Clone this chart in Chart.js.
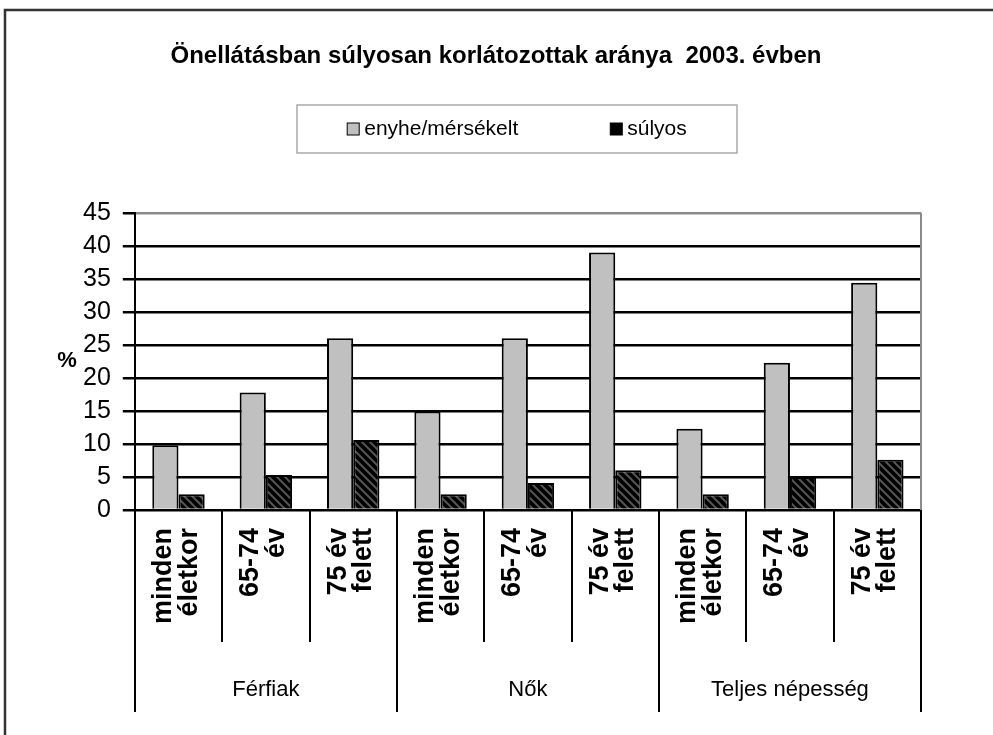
<!DOCTYPE html>
<html>
<head>
<meta charset="utf-8">
<script src="https://cdn.jsdelivr.net/npm/chart.js@4.4.0/dist/chart.umd.min.js"></script>
<style>
  body { margin: 0; background: #fff; }
</style>
</head>
<body>
<canvas id="grafico" width="993" height="735"></canvas>
<script>
// adatok
const csoportok = ['Férfiak', 'Nők', 'Teljes népesség'];
const korcsoportok = [['minden', 'életkor'], ['65-74', 'év'], ['75 év', 'felett']];
const kategoriak = [...korcsoportok, ...korcsoportok, ...korcsoportok];
const enyhe = [9.8, 17.8, 26.0, 14.9, 26.0, 39.0, 12.3, 22.3, 34.4];
const sulyos = [2.4, 5.3, 10.6, 2.4, 4.1, 6.0, 2.4, 5.0, 7.6];
const yMax = 45;
const yLepes = 5;

Chart.defaults.font.family = "'Liberation Sans', Arial, sans-serif";
Chart.defaults.color = '#000';

// ferde csikos minta a sulyos oszlopokhoz
function csikos() {
  const c = document.createElement('canvas');
  c.width = 8; c.height = 8;
  const g = c.getContext('2d');
  g.fillStyle = '#000';
  g.fillRect(0, 0, 8, 8);
  g.strokeStyle = '#555';
  g.lineWidth = 2;
  g.beginPath();
  g.moveTo(0, 0); g.lineTo(8, 8);
  g.moveTo(-4, 4); g.lineTo(4, 12);
  g.moveTo(4, -4); g.lineTo(12, 4);
  g.stroke();
  return g.createPattern(c, 'repeat');
}

// keret, elvalaszto vonalak, % jel es jelmagyarazat
const keret = {
  id: 'keret',
  beforeDraw(chart) {
    const ctx = chart.ctx;
    ctx.save();
    ctx.strokeStyle = '#333';
    ctx.lineWidth = 2.5;
    ctx.beginPath();
    ctx.moveTo(5, 735); ctx.lineTo(5, 10); ctx.lineTo(993, 10);
    ctx.stroke();
    ctx.restore();
  },
  afterDraw(chart) {
    const ctx = chart.ctx;
    const a = chart.chartArea;
    const x = chart.scales.x;
    const x2 = chart.scales.x2;
    ctx.save();

    // jobb oldali szurke keret
    ctx.strokeStyle = '#8a8a8a';
    ctx.lineWidth = 2;
    ctx.beginPath();
    ctx.moveTo(a.right, a.top); ctx.lineTo(a.right, a.bottom);
    ctx.stroke();

    // kategoriak kozotti vonalak
    const n = x.ticks.length;
    const w = (a.right - a.left) / n;
    ctx.strokeStyle = '#000';
    ctx.lineWidth = 2;
    for (let i = 0; i <= n; i++) {
      const xx = Math.round(a.left + i * w);
      const alja = i % 3 === 0 ? x2.bottom - 5 : x.bottom;
      ctx.beginPath();
      ctx.moveTo(xx, a.bottom); ctx.lineTo(xx, alja);
      ctx.stroke();
    }

    // % felirat
    ctx.fillStyle = '#000';
    ctx.font = "bold 22px 'Liberation Sans', Arial, sans-serif";
    ctx.textAlign = 'center';
    ctx.textBaseline = 'middle';
    ctx.fillText('%', 67, (a.top + a.bottom) / 2);

    // jelmagyarazat
    const cx = 517, top = 105, bottom = 153, ym = 129;
    ctx.strokeStyle = '#aaa';
    ctx.lineWidth = 1.5;
    ctx.strokeRect(cx - 220, top, 440, bottom - top);
    ctx.font = "21px 'Liberation Sans', Arial, sans-serif";
    ctx.textAlign = 'left';
    const ds = chart.data.datasets;
    const doboz = 12, res = 5, koz = 92;
    const szelek = ds.map(d => doboz + res + ctx.measureText(d.label).width);
    let xx = cx - (szelek.reduce((s, v) => s + v, 0) + koz * (ds.length - 1)) / 2;
    ds.forEach((d, i) => {
      ctx.fillStyle = typeof d.backgroundColor === 'string' ? d.backgroundColor : '#000';
      ctx.fillRect(xx, ym - doboz / 2, doboz, doboz);
      ctx.strokeStyle = '#000';
      ctx.lineWidth = 1;
      ctx.strokeRect(xx, ym - doboz / 2, doboz, doboz);
      ctx.fillStyle = '#000';
      ctx.fillText(d.label, xx + doboz + res, ym);
      xx += szelek[i] + koz;
    });
    ctx.restore();
  }
};

const ctx = document.getElementById('grafico').getContext('2d');
const chart = new Chart(ctx, {
  type: 'bar',
  data: {
    labels: kategoriak,
    datasets: [
      {
        label: 'enyhe/mérsékelt',
        data: enyhe,
        backgroundColor: '#c0c0c0',
        borderColor: '#000',
        borderWidth: 2,
        categoryPercentage: 0.6,
        barPercentage: 1.0
      },
      {
        label: 'súlyos',
        data: sulyos,
        backgroundColor: csikos(),
        borderColor: '#000',
        borderWidth: 2,
        categoryPercentage: 0.6,
        barPercentage: 1.0
      }
    ]
  },
  options: {
    responsive: false,
    animation: false,
    layout: { padding: { left: 71, right: 72, top: 0, bottom: 18 } },
    plugins: {
      legend: { display: false },
      tooltip: { enabled: false },
      title: {
        display: true,
        text: 'Önellátásban súlyosan korlátozottak aránya  2003. évben',
        font: { size: 24, weight: 'bold' },
        padding: { top: 42, bottom: 142 }
      }
    },
    scales: {
      x: {
        grid: { display: false, drawTicks: false },
        border: { display: true, color: '#000', width: 2 },
        ticks: {
          autoSkip: false,
          minRotation: 90,
          maxRotation: 90,
          padding: 18,
          labelOffset: -15,
          font: { size: 27, weight: 'bold', lineHeight: 0.95 }
        }
      },
      x2: {
        type: 'category',
        labels: csoportok,
        position: 'bottom',
        offset: true,
        grid: { display: false, drawTicks: false },
        border: { display: false },
        ticks: { padding: 35, font: { size: 22 } },
        afterFit: s => { s.height = 75; }
      },
      y: {
        min: 0,
        max: yMax,
        ticks: { stepSize: yLepes, autoSkip: false, padding: 12, font: { size: 25 } },
        grid: {
          color: c => (c.tick && c.tick.value === yMax ? '#8a8a8a' : '#000'),
          tickColor: '#000',
          lineWidth: 2.5,
          tickLength: 12
        },
        border: { display: true, color: '#000', width: 2 }
      }
    }
  },
  plugins: [keret]
});
</script>
</body>
</html>
